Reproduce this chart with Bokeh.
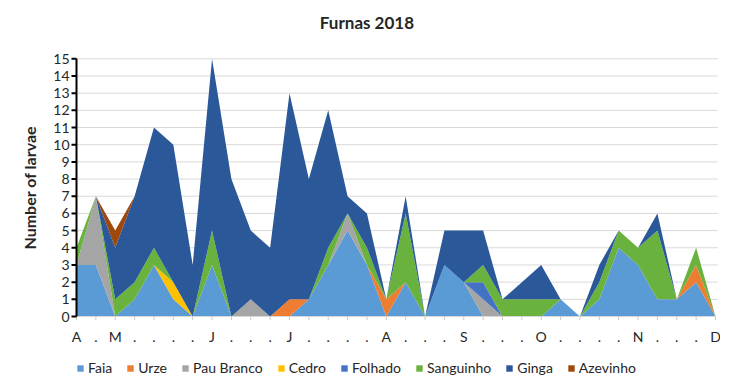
import math
from bokeh.plotting import figure
from bokeh.models import ColumnDataSource, Range1d, Label, Legend, LegendItem
from bokeh.core.properties import value
from bokeh.embed import file_html
from bokeh.resources import INLINE

# ---- data ----
tick_labels = ["A", ".", "M", ".", ".", ".", ".", "J", ".", ".", ".", "J", ".", ".", ".", ".",
               "A", ".", ".", ".", "S", ".", ".", ".", "O", ".", ".", ".", ".", "N", ".", ".", ".", "D"]

faia       = [3, 3, 0, 1, 3, 1, 0, 3, 0, 0, 0, 0, 1, 3, 5, 3, 0, 2, 0, 3, 2, 0, 0, 0, 0, 1, 0, 1, 4, 3, 1, 1, 2, 0]
urze       = [0, 0, 0, 0, 0, 0, 0, 0, 0, 0, 0, 1, 0, 0, 0, 0, 1, 0, 0, 0, 0, 0, 0, 0, 0, 0, 0, 0, 0, 0, 0, 0, 1, 0]
pau_branco = [0, 4, 0, 0, 0, 0, 0, 0, 0, 1, 0, 0, 0, 0, 1, 0, 0, 0, 0, 0, 0, 1, 0, 0, 0, 0, 0, 0, 0, 0, 0, 0, 0, 0]
cedro      = [0, 0, 0, 0, 0, 1, 0, 0, 0, 0, 0, 0, 0, 0, 0, 0, 0, 0, 0, 0, 0, 0, 0, 0, 0, 0, 0, 0, 0, 0, 0, 0, 0, 0]
folhado    = [0, 0, 0, 0, 0, 0, 0, 0, 0, 0, 0, 0, 0, 0, 0, 0, 0, 0, 0, 0, 0, 1, 0, 0, 0, 0, 0, 0, 0, 0, 0, 0, 0, 0]
sanguinho  = [1, 0, 1, 1, 1, 0, 0, 2, 0, 0, 0, 0, 0, 1, 0, 1, 0, 4, 0, 0, 0, 1, 1, 1, 1, 0, 0, 1, 1, 1, 4, 0, 1, 0]
ginga      = [0, 0, 3, 5, 7, 8, 3, 10, 8, 4, 4, 12, 7, 8, 1, 2, 0, 1, 0, 2, 3, 2, 0, 1, 2, 0, 0, 1, 0, 0, 1, 0, 0, 0]
azevinho   = [0, 0, 1, 0, 0, 0, 0, 0, 0, 0, 0, 0, 0, 0, 0, 0, 0, 0, 0, 0, 0, 0, 0, 0, 0, 0, 0, 0, 0, 0, 0, 0, 0, 0]

series_names = ["Faia", "Urze", "Pau Branco", "Cedro", "Folhado", "Sanguinho", "Ginga", "Azevinho"]
series_values = [faia, urze, pau_branco, cedro, folhado, sanguinho, ginga, azevinho]
series_colors = ["#5B9BD5", "#ED7D31", "#A5A5A5", "#FFC000", "#4472C4", "#6AB23E", "#2A5898", "#9E480E"]

y_ticks = list(range(0, 16))
title_text = "Furnas 2018"
y_title = "Number of larvae"

FONT = "Lato"
TXT = "#262626"

# ---- layout constants (pixels) ----
W, H = 720, 376
LEFT, RIGHT = 76, 715            # x of first / last category
Y0_PX, Y15_PX = 316, 58.3        # y of value 0 / 15
PX_PER_UNIT = (Y0_PX - Y15_PX) / 15.0
PX_PER_CAT = (RIGHT - LEFT) / 33.0

x = list(range(len(tick_labels)))
data = {"x": x}
for n, v in zip(series_names, series_values):
    data[n] = v
source = ColumnDataSource(data)

y_max = max(y_ticks)
y_top = y_max + Y15_PX / PX_PER_UNIT
y_bot = -(H - Y0_PX) / PX_PER_UNIT
x_lo = x[0] - LEFT / PX_PER_CAT
x_hi = x[-1] + (W - RIGHT) / PX_PER_CAT

p = figure(width=W, height=H, output_backend="svg", toolbar_location=None,
           x_range=Range1d(x_lo, x_hi), y_range=Range1d(y_bot, y_top),
           x_axis_location=None, y_axis_location=None,
           min_border_left=0, min_border_right=0, min_border_top=0, min_border_bottom=0)
p.outline_line_color = None
p.background_fill_color = "white"
p.border_fill_color = "white"
p.xgrid.visible = False
p.ygrid.visible = False

# horizontal gridlines 1..15 (behind the areas)
grid_src = ColumnDataSource(dict(y=y_ticks[1:]))
p.segment(x0=x[0], x1=x[-1] + 2.5 / PX_PER_CAT, y0="y", y1="y", source=grid_src,
          line_color="#d9d9d9", line_width=1)

renderers = p.varea_stack(stackers=series_names, x="x", color=series_colors, source=source)

# category axis at y = 0
p.segment(x0=x[0], x1=x[-1], y0=0, y1=0, line_color="#d9d9d9", line_width=1)
tick_src = ColumnDataSource(dict(x=x, lab=tick_labels))
p.segment(x0="x", y0=0, x1="x", y1=-3.5 / PX_PER_UNIT, source=tick_src,
          line_color="#c8c8c8", line_width=1)
p.text(x="x", y=0, text="lab", source=tick_src, y_offset=20,
       text_align="center", text_baseline="middle",
       text_font=value(FONT), text_font_size="14px", text_color=TXT)

# value axis at the first category
ytick_src = ColumnDataSource(dict(y=y_ticks, lab=[str(t) for t in y_ticks]))
p.segment(x0=x[0], x1=x[0], y0=0, y1=y_max, line_color="black", line_width=2)
p.segment(x0=x[0] - 5 / PX_PER_CAT, x1=x[0], y0="y", y1="y", source=ytick_src,
          line_color="black", line_width=2)
p.text(x=x[0], y="y", text="lab", source=ytick_src, x_offset=-7,
       text_align="right", text_baseline="middle",
       text_font=value(FONT), text_font_size="14px", text_color=TXT)
p.text(x=[x[0]], y=[y_max / 2], text=[y_title], angle=math.pi / 2, x_offset=-47,
       text_align="center", text_baseline="middle",
       text_font=value(FONT), text_font_style="bold", text_font_size="16px", text_color=TXT)

# title
title = Label(x=15.0, y=y_max + (Y15_PX - 22) / PX_PER_UNIT, text=title_text, text_font=FONT,
              text_font_style="bold", text_font_size="17px", text_color=TXT,
              text_align="center", text_baseline="middle")
p.add_layout(title)

# legend
legend = Legend(items=[LegendItem(label=n, renderers=[r]) for n, r in zip(series_names, renderers)],
                orientation="horizontal", location=(LEFT, 0),
                border_line_color=None, background_fill_alpha=0,
                padding=0, margin=0, glyph_width=8, glyph_height=8,
                label_standoff=4, spacing=14, label_height=14,
                label_text_font=FONT, label_text_font_size="14px", label_text_color=TXT)
p.add_layout(legend)

open("out.html", "w").write(file_html(p, INLINE))
